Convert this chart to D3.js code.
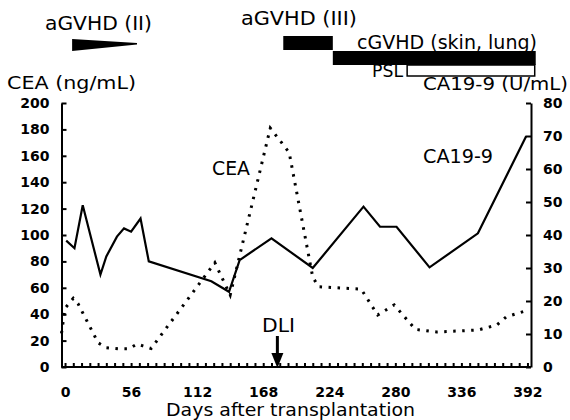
<!DOCTYPE html>
<html>
<head>
<meta charset="utf-8">
<script src="https://cdn.jsdelivr.net/npm/d3@7"></script>
<style>
  body { margin: 0; background: #fff; }
  text { font-family: "DejaVu Sans", sans-serif; fill: #000; }
  .tick text { font-weight: bold; font-size: 14px; }
  .domain, .tick line { stroke: #000; stroke-width: 2; }
</style>
</head>
<body>
<div id="chart"></div>
<script>
// CEA (dotted, left axis) - days after transplantation / ng/mL
var ceaDays = [-3, 0, 7, 11, 28, 35, 45, 54, 61, 66, 73, 127, 140, 174, 190, 210, 215, 251, 265, 279, 297, 315, 350, 366, 374, 390];
var ceaValues = [25.5, 44.5, 52, 48, 18.4, 14.6, 13.8, 13.8, 17.4, 16, 14, 79, 54.5, 181, 162.5, 68, 60.8, 59, 39.4, 47, 28.5, 26.5, 28, 31.8, 38, 42.4];

// CA19-9 (solid, right axis) - U/mL
var caDays = [1, 8, 15, 30, 35, 44, 50, 56, 64, 71, 124, 139, 148, 175, 210, 253, 267, 281, 309, 350, 391];
var caValues = [38.3, 36, 49, 28, 33.5, 39.5, 42, 41, 45, 32, 26, 22.8, 32.4, 39, 30, 48.6, 42.5, 42.5, 30.2, 40.5, 70];

// tick values
var xTickLabels = [0, 56, 112, 168, 224, 280, 336, 392];
var leftTicks = [0, 20, 40, 60, 80, 100, 120, 140, 160, 180, 200];
var rightTicks = [0, 10, 20, 30, 40, 50, 60, 70, 80];

// clinical course bars (day ranges)
var wedgeDays = [6, 61];      // aGVHD (II)
var aGvhd3Days = [185, 227];  // aGVHD (III)
var cGvhdDays = [227, 399];   // cGVHD (skin, lung)
var pslDays = [290, 399];     // PSL
var dliDay = 180;

var svgWidth = 570;
var svgHeight = 420;

var svg = d3.select("#chart")
    .append("svg")
    .attr("width", svgWidth)
    .attr("height", svgHeight);

// scales
var x = d3.scaleLinear().domain([-3, 395]).range([61.5, 531]);
var yLeft = d3.scaleLinear().domain([0, 200]).range([367, 103]);
var yRight = d3.scaleLinear().domain([0, 80]).range([367, 103]);

// axes - weekly minor ticks on x, labels every 8 weeks
var weekly = d3.range(0, 393, 7);
var bottomAxis = d3.axisBottom(x)
    .tickValues(weekly)
    .tickSize(-4)
    .tickSizeOuter(0)
    .tickPadding(20)
    .tickFormat(d => xTickLabels.indexOf(d) >= 0 ? d : "");

svg.append("g")
    .attr("transform", "translate(0,367)")
    .call(bottomAxis)
    .call(g => g.select(".domain").attr("d", "M61.5,0H531"));

var leftAxis = d3.axisLeft(yLeft)
    .tickValues(leftTicks)
    .tickSize(-5)
    .tickSizeOuter(0)
    .tickPadding(12);

svg.append("g")
    .attr("transform", "translate(61.5,0)")
    .call(leftAxis);

var rightAxis = d3.axisRight(yRight)
    .tickValues(rightTicks)
    .tickSize(-5)
    .tickSizeOuter(0)
    .tickPadding(12);

svg.append("g")
    .attr("transform", "translate(531,0)")
    .call(rightAxis);

svg.selectAll(".tick line").attr("stroke-width", 1.5);

// lines
var ceaLine = d3.line()
    .x((d, i) => x(ceaDays[i]))
    .y(d => yLeft(d));

var caLine = d3.line()
    .x((d, i) => x(caDays[i]))
    .y(d => yRight(d));

svg.append("path")
    .datum(ceaValues)
    .attr("d", ceaLine)
    .attr("fill", "none")
    .attr("stroke", "#000")
    .attr("stroke-width", 3)
    .attr("stroke-dasharray", "2.5,6.5");

svg.append("path")
    .datum(caValues)
    .attr("d", caLine)
    .attr("fill", "none")
    .attr("stroke", "#000")
    .attr("stroke-width", 2.2)
    .attr("stroke-linejoin", "miter");

// course annotations
svg.append("path")
    .attr("d", `M${x(wedgeDays[0])},39 L${x(wedgeDays[1])},43 L${x(wedgeDays[1])},44.5 L${x(wedgeDays[0])},51 Z`)
    .attr("fill", "#000");

svg.append("rect")
    .attr("x", x(aGvhd3Days[0]))
    .attr("y", 36)
    .attr("width", x(aGvhd3Days[1]) - x(aGvhd3Days[0]))
    .attr("height", 14)
    .attr("fill", "#000");

svg.append("rect")
    .attr("x", x(cGvhdDays[0]))
    .attr("y", 51)
    .attr("width", x(cGvhdDays[1]) - x(cGvhdDays[0]))
    .attr("height", 14)
    .attr("fill", "#000");

svg.append("rect")
    .attr("x", x(pslDays[0]))
    .attr("y", 65)
    .attr("width", x(pslDays[1]) - x(pslDays[0]) - 1)
    .attr("height", 11)
    .attr("fill", "#fff")
    .attr("stroke", "#000")
    .attr("stroke-width", 1.5);

// DLI arrow
var ax = x(dliDay);
svg.append("line")
    .attr("x1", ax).attr("x2", ax)
    .attr("y1", 336).attr("y2", 356)
    .attr("stroke", "#000")
    .attr("stroke-width", 3);
svg.append("path")
    .attr("d", `M${ax - 6},353 L${ax + 6},353 L${ax},368 Z`)
    .attr("fill", "#000");

// labels
function label(txt, xPos, yPos, len, size) {
    svg.append("text")
        .attr("x", xPos)
        .attr("y", yPos)
        .attr("font-size", size || 19)
        .attr("textLength", len)
        .attr("lengthAdjust", "spacingAndGlyphs")
        .text(txt);
}

label("aGVHD (II)", 45, 30, 107);
label("aGVHD (III)", 241, 25, 116);
label("cGVHD (skin, lung)", 357, 49, 180);
label("PSL", 372, 77, 31, 17);
label("CEA (ng/mL)", 7, 89, 129, 18);
label("CA19-9 (U/mL)", 423, 90, 145, 17);
label("CEA", 212, 175, 38);
label("CA19-9", 423, 163, 70);
label("DLI", 262, 332, 33);
label("Days after transplantation", 166, 416, 249, 18);
</script>
</body>
</html>
